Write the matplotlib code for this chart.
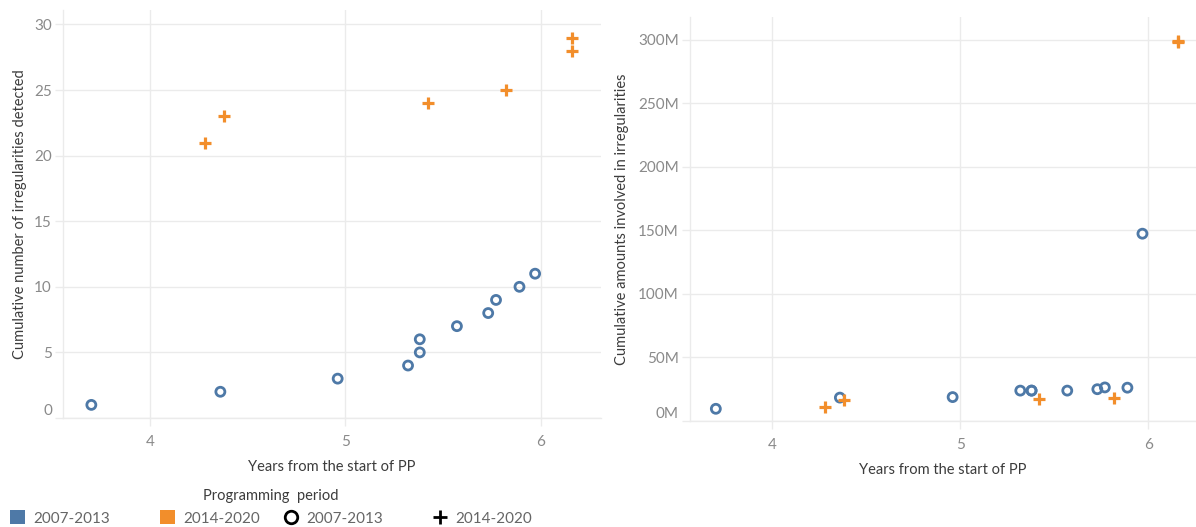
import matplotlib
matplotlib.use('Agg')
import matplotlib.pyplot as plt
from matplotlib.lines import Line2D
from matplotlib.patches import Patch
from matplotlib.ticker import FuncFormatter

plt.rcParams['font.family'] = ['Lato', 'DejaVu Sans']

# programming period 2007-2013
years_0713 = [3.70, 4.36, 4.96, 5.32, 5.38, 5.38, 5.57, 5.73, 5.77, 5.89, 5.97]
count_0713 = [1, 2, 3, 4, 5, 6, 7, 8, 9, 10, 11]
amount_0713 = [9.6e6, 18.4e6, 18.8e6, 23.9e6, 23.9e6, 23.9e6, 23.9e6, 25.0e6, 26.4e6, 26.2e6, 147.3e6]

# programming period 2014-2020
years_1420 = [4.28, 4.38, 5.42, 5.82, 6.16, 6.16]
count_1420 = [21, 23, 24, 25, 28, 29]
amount_1420 = [11.4e6, 16.6e6, 17.4e6, 18.0e6, 298.0e6, 299.0e6]

blue = '#4e79a7'
orange = '#f28e2b'
grid_c = '#ebebeb'
tick_c = '#8a8a8a'
label_c = '#3c3c3c'

W, H = 1196, 527
fig = plt.figure(figsize=(W / 100, H / 100), dpi=100)


def px_axes(x0, y0, x1, y1):
    # pixel box (top-left origin) -> figure fraction
    return fig.add_axes([x0 / W, 1 - y1 / H, (x1 - x0) / W, (y1 - y0) / H])


def style(ax, xs_a, ys_a, xs_b, ys_b, xlim, ylim, yticks, ylabel, fmt=None):
    ax.scatter(xs_a, ys_a, marker='o', s=42, facecolors='none',
               edgecolors=blue, linewidths=2.0, zorder=3)
    ax.scatter(xs_b, ys_b, marker='+', s=70, color=orange,
               linewidths=2.3, zorder=4)
    ax.set_xlim(*xlim)
    ax.set_ylim(*ylim)
    ax.set_xticks([4, 5, 6])
    ax.set_yticks(yticks)
    if fmt:
        ax.yaxis.set_major_formatter(FuncFormatter(fmt))
    ax.grid(True, color=grid_c, linewidth=1)
    ax.set_axisbelow(True)
    for s in ['top', 'right']:
        ax.spines[s].set_visible(False)
    for s in ['left', 'bottom']:
        ax.spines[s].set_color(grid_c)
        ax.spines[s].set_linewidth(1)
    ax.tick_params(axis='both', colors=grid_c, labelcolor=tick_c, labelsize=11, width=1)
    ax.tick_params(axis='x', length=6, pad=6)
    ax.tick_params(axis='y', length=6, pad=2)
    ax.set_xlabel('Years from the start of PP', color=label_c, fontsize=10.5, labelpad=8)
    ax.set_ylabel(ylabel, color=label_c, fontsize=10.5)
    fig.canvas.draw()
    ax.get_yticklabels()[0].set_va('bottom')


# left chart: number of irregularities
ax1 = px_axes(63, 10, 601, 418)
style(ax1, years_0713, count_0713, years_1420, count_1420,
      (3.555, 6.307), (0, 31.1), [0, 5, 10, 15, 20, 25, 30],
      'Cumulative number of irregularities detected')
ax1.yaxis.set_label_coords(-0.066, 0.5)

# right chart: amounts
ax2 = px_axes(690, 17, 1196, 421)
style(ax2, years_0713, amount_0713, years_1420, amount_1420,
      (3.5625, 6.255), (0, 317.7e6), [0, 50e6, 100e6, 150e6, 200e6, 250e6, 300e6],
      'Cumulative amounts involved in irregularities',
      fmt=lambda v, p: '%dM' % round(v / 1e6))
ax2.yaxis.set_label_coords(-0.12, 0.5)

# legend
fig.text(203 / W, 1 - 496 / H, 'Programming  period', color=label_c, fontsize=10.5,
         va='center', ha='left')
handles = [
    Patch(facecolor=blue, edgecolor='none'),
    Patch(facecolor=orange, edgecolor='none'),
    Line2D([], [], marker='o', linestyle='none', markerfacecolor='none',
           markeredgecolor='black', markeredgewidth=2, markersize=9),
    Line2D([], [], marker='+', linestyle='none', color='black',
           markeredgewidth=2, markersize=10),
]
labels = ['2007-2013', '2014-2020', '2007-2013', '2014-2020']
xs = [10, 160, 283, 432]
for h, l, x in zip(handles, labels, xs):
    leg = fig.legend([h], [l], loc='center left', bbox_to_anchor=(x / W, 1 - 518 / H),
                     frameon=False, fontsize=11, handlelength=1.0, handleheight=1.0,
                     handletextpad=0.5, borderpad=0, borderaxespad=0)
    for t in leg.get_texts():
        t.set_color('#666666')

fig.savefig('out.png', dpi=100)
